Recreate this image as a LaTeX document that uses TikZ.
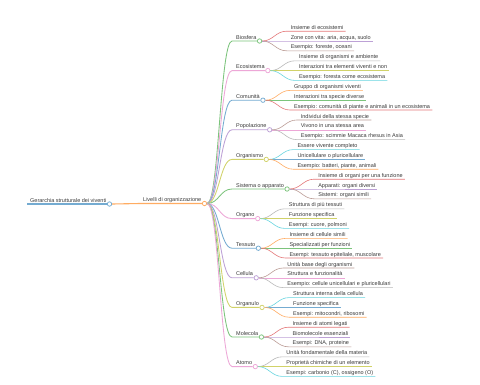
\documentclass[tikz,border=0pt]{standalone}
\usepackage{fontspec}
\setmainfont{Liberation Sans}
\usetikzlibrary{calc}
\definecolor{txt}{HTML}{3A3A3A}
\definecolor{kBlue}{HTML}{1F77B4}
\definecolor{kOrange}{HTML}{FF7F0E}
\definecolor{kGreen}{HTML}{2CA02C}
\definecolor{kRed}{HTML}{D62728}
\definecolor{kPurple}{HTML}{9467BD}
\definecolor{kBrown}{HTML}{8C564B}
\definecolor{kPink}{HTML}{E377C2}
\definecolor{kGray}{HTML}{7F7F7F}
\definecolor{kOlive}{HTML}{BCBD22}
\definecolor{kCyan}{HTML}{17BECF}
\colorlet{cBlue}{kBlue!62!white}
\colorlet{cOrange}{kOrange!65!white}
\colorlet{cGreen}{kGreen!62!white}
\colorlet{cRed}{kRed!62!white}
\colorlet{cPurple}{kPurple!62!white}
\colorlet{cBrown}{kBrown!58!white}
\colorlet{cPink}{kPink!65!white}
\colorlet{cGray}{kGray!55!white}
\colorlet{cOlive}{kOlive!68!white}
\colorlet{cCyan}{kCyan!65!white}
\tikzset{
  mmtext/.style={inner sep=0pt, anchor=base west, text=txt, font=\fontsize{5.5}{6}\selectfont},
  mmdot/.style={circle, draw, fill=white, inner sep=0pt, minimum size=4.4pt, line width=0.75pt},
  mmlink/.style={line width=0.85pt},
  leaflink/.style={line width=0.6pt},
}
\newcommand\mmchild[4]{%
  \node[mmtext] (#1) at (236,#2-2) {#4};
  \node[mmdot, draw=#3] (#1-dot) at ($(#1.base east)+(3,2)$) {};
  \coordinate (#1-s) at (232,#2);
  \draw[mmlink, #3] (lv-dot.east) .. controls +(12,0) and +(-12,0) .. (#1-s) -- (#1-dot.west);
}
\newcommand\mmleaf[4]{%
  \node[mmtext] (#1-l#2) at ($(#1-dot.center)+(31,{(#2-2)*9.8-2})$) {#4};
  \coordinate (#1-l#2s) at ($(#1-dot.center)+(27,{(#2-2)*9.8})$);
  \coordinate (#1-l#2e) at ($(#1-l#2.base east)+(2,2)$);
  \draw[leaflink, #3] (#1-dot.east) .. controls +(11,0) and +(-11,0) .. (#1-l#2s) -- (#1-l#2e);
}
\begin{document}
\begin{tikzpicture}[x=1pt,y=-1pt]
\useasboundingbox[fill=white] (0,0) rectangle (480,384);
% root
\node[mmtext] (root) at (30,202) {Gerarchia strutturale dei viventi};
\node[mmdot, draw=cBlue] (root-dot) at ($(root.base east)+(3,2)$) {};
\coordinate (root-s) at ($(root.base west)+(-3,2)$);
\draw[cBlue, line width=1.4pt] (root-s) -- (root-dot.west);
% level 1
\node[mmtext] (lv) at (143,201.5) {Livelli di organizzazione};
\node[mmdot, draw=cOrange] (lv-dot) at ($(lv.base east)+(3,2)$) {};
\coordinate (lv-s) at (140,203.5);
\draw[cOrange, line width=1.1pt] (root-dot.east) .. controls +(14,0) and +(-14,0) .. (lv-s) -- (lv-dot.west);
% children
\mmchild{bio}{41}{cGreen}{Biosfera}
\mmleaf{bio}{1}{cRed}{Insieme di ecosistemi}
\mmleaf{bio}{2}{cPurple}{Zone con vita: aria, acqua, suolo}
\mmleaf{bio}{3}{cBrown}{Esempio: foreste, oceani}
\mmchild{eco}{70.6}{cPink}{Ecosistema}
\mmleaf{eco}{1}{cGray}{Insieme di organismi e ambiente}
\mmleaf{eco}{2}{cOlive}{Interazioni tra elementi viventi e non}
\mmleaf{eco}{3}{cCyan}{Esempio: foresta come ecosistema}
\mmchild{com}{100.2}{cBlue}{Comunità}
\mmleaf{com}{1}{cOrange}{Gruppo di organismi viventi}
\mmleaf{com}{2}{cGreen}{Interazioni tra specie diverse}
\mmleaf{com}{3}{cRed}{Esempio: comunità di piante e animali in un ecosistema}
\mmchild{pop}{129.8}{cPurple}{Popolazione}
\mmleaf{pop}{1}{cBrown}{Individui della stessa specie}
\mmleaf{pop}{2}{cPink}{Vivono in una stessa area}
\mmleaf{pop}{3}{cGray}{Esempio: scimmie Macaca rhesus in Asia}
\mmchild{org}{159.4}{cOlive}{Organismo}
\mmleaf{org}{1}{cCyan}{Essere vivente completo}
\mmleaf{org}{2}{cBlue}{Unicellulare o pluricellulare}
\mmleaf{org}{3}{cOrange}{Esempio: batteri, piante, animali}
\mmchild{sis}{189}{cGreen}{Sistema o apparato}
\mmleaf{sis}{1}{cRed}{Insieme di organi per una funzione}
\mmleaf{sis}{2}{cPurple}{Apparati: organi diversi}
\mmleaf{sis}{3}{cBrown}{Sistemi: organi simili}
\mmchild{ogn}{218.6}{cPink}{Organo}
\mmleaf{ogn}{1}{cGray}{Struttura di più tessuti}
\mmleaf{ogn}{2}{cOlive}{Funzione specifica}
\mmleaf{ogn}{3}{cCyan}{Esempi: cuore, polmoni}
\mmchild{tes}{248.2}{cBlue}{Tessuto}
\mmleaf{tes}{1}{cOrange}{Insieme di cellule simili}
\mmleaf{tes}{2}{cGreen}{Specializzati per funzioni}
\mmleaf{tes}{3}{cRed}{Esempi: tessuto epiteliale, muscolare}
\mmchild{cel}{277.8}{cPurple}{Cellula}
\mmleaf{cel}{1}{cBrown}{Unità base degli organismi}
\mmleaf{cel}{2}{cPink}{Struttura e funzionalità}
\mmleaf{cel}{3}{cGray}{Esempio: cellule unicellulari e pluricellulari}
\mmchild{onl}{307.4}{cOlive}{Organulo}
\mmleaf{onl}{1}{cCyan}{Struttura interna della cellula}
\mmleaf{onl}{2}{cBlue}{Funzione specifica}
\mmleaf{onl}{3}{cOrange}{Esempi: mitocondri, ribosomi}
\mmchild{mol}{337}{cGreen}{Molecola}
\mmleaf{mol}{1}{cRed}{Insieme di atomi legati}
\mmleaf{mol}{2}{cPurple}{Biomolecole essenziali}
\mmleaf{mol}{3}{cBrown}{Esempi: DNA, proteine}
\mmchild{ato}{366.6}{cPink}{Atomo}
\mmleaf{ato}{1}{cGray}{Unità fondamentale della materia}
\mmleaf{ato}{2}{cOlive}{Proprietà chimiche di un elemento}
\mmleaf{ato}{3}{cCyan}{Esempi: carbonio (C), ossigeno (O)}
\end{tikzpicture}
\end{document}
